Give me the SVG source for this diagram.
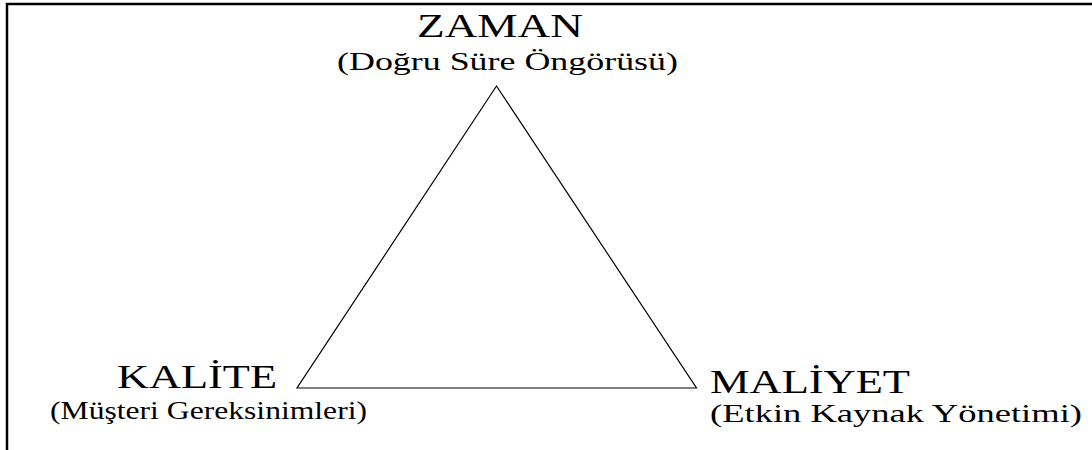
<svg xmlns="http://www.w3.org/2000/svg" width="1092" height="450" viewBox="0 0 1092 450">
<style>
.t{font-family:"Liberation Serif","Times New Roman",serif;fill:#000}
.h{font-size:34px}
.s{font-size:26px}
</style>
<rect width="1092" height="450" fill="#fff"/>
<path d="M7 450 V4 H1092" fill="none" stroke="#000" stroke-width="2.5"/>
<g id="connectors">
<polygon points="496.5,86 297,388 696.5,388" fill="none" stroke="#000" stroke-width="1.2"/>
</g>
<g id="zaman">
<text class="t h" x="417" y="37" textLength="166" lengthAdjust="spacingAndGlyphs">ZAMAN</text>
<text class="t s" x="337" y="70" textLength="341" lengthAdjust="spacingAndGlyphs">(Doğru Süre Öngörüsü)</text>
</g>
<g id="kalite">
<text class="t h" x="117" y="388" textLength="160" lengthAdjust="spacingAndGlyphs">KALİTE</text>
<text class="t s" x="50" y="419" textLength="317" lengthAdjust="spacingAndGlyphs">(Müşteri Gereksinimleri)</text>
</g>
<g id="maliyet">
<text class="t h" x="710" y="393" textLength="200" lengthAdjust="spacingAndGlyphs">MALİYET</text>
<text class="t s" x="710" y="422" textLength="372" lengthAdjust="spacingAndGlyphs">(Etkin Kaynak Yönetimi)</text>
</g>
</svg>
